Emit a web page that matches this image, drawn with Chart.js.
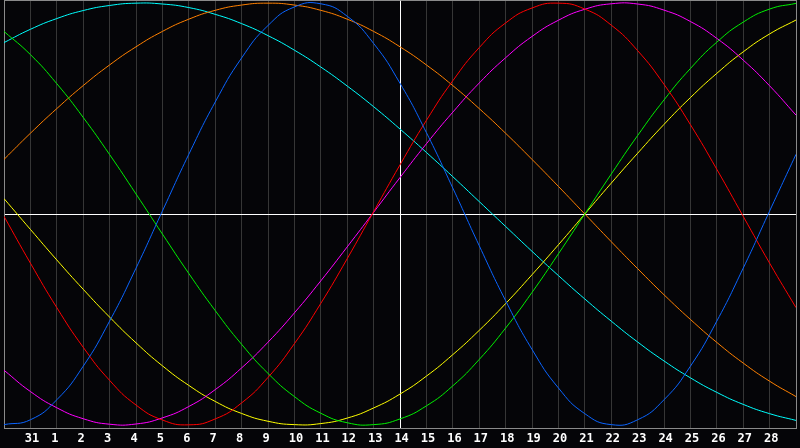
<!DOCTYPE html>
<html>
<head>
<meta charset="utf-8">
<script src="https://cdn.jsdelivr.net/npm/chart.js@4/dist/chart.umd.min.js"></script>
<style>
  html, body { margin: 0; padding: 0; background: #050508; }
  #wrap { width: 800px; height: 448px; }
</style>
</head>
<body>
<div id="wrap"><canvas id="c" width="800" height="448"></canvas></div>
<script>
// Day labels along the bottom (first and last positions are unlabeled)
const dayLabels = ["", "31", "1", "2", "3", "4", "5", "6", "7", "8", "9", "10", "11", "12", "13", "14",
  "15", "16", "17", "18", "19", "20", "21", "22", "23", "24", "25", "26", "27", "28", ""];

// Series values (percent), one per day position
const physical = [-99.9, -97.6, -88.1, -72.2, -50.8, -25.7, 1.4, 28.3, 53.1, 74.0, 89.4, 98.2, 99.7, 93.8, 80.9, 62.0, 38.6, 12.3, -15.0, -41.1, -64.2, -82.5, -94.7, -99.9, -97.6, -88.1, -72.2, -50.8, -25.7, 1.4, 28.3];
const emotional = [-1.1, -23.3, -44.4, -63.2, -78.9, -90.6, -97.7, -100.0, -97.2, -89.6, -77.5, -61.5, -42.4, -21.2, 1.1, 23.3, 44.4, 63.2, 78.9, 90.6, 97.7, 100.0, 97.2, 89.6, 77.5, 61.5, 42.4, 21.2, -1.1, -23.3, -44.4];
const intellectual = [86.6, 75.6, 61.8, 45.8, 28.2, 9.5, -9.5, -28.2, -45.8, -61.8, -75.6, -86.6, -94.5, -99.0, -99.9, -97.2, -91.0, -81.5, -69.0, -54.1, -37.2, -18.9, 0, 18.9, 37.2, 54.1, 69.0, 81.5, 91.0, 97.2, 99.9];
const intuitive = [-74.1, -84.2, -91.9, -97.1, -99.7, -99.6, -96.7, -91.3, -83.3, -73.0, -60.8, -46.9, -31.7, -15.6, 0.8, 17.3, 33.3, 48.3, 62.1, 74.1, 84.2, 91.9, 97.1, 99.7, 99.6, 96.7, 91.3, 83.3, 73.0, 60.8, 46.9];
const aesthetic = [7.3, -7.3, -21.8, -35.7, -48.9, -61.1, -72.0, -81.3, -88.9, -94.6, -98.3, -99.9, -99.4, -96.8, -92.0, -85.4, -76.9, -66.7, -55.2, -42.5, -28.8, -14.6, 0, 14.6, 28.8, 42.5, 55.2, 66.7, 76.9, 85.4, 92.0];
const awareness = [25.9, 38.3, 50.0, 60.9, 70.7, 79.3, 86.6, 92.4, 96.6, 99.1, 100, 99.1, 96.6, 92.4, 86.6, 79.3, 70.7, 60.9, 50.0, 38.3, 25.9, 13.1, 0, -13.1, -25.9, -38.3, -50.0, -60.9, -70.7, -79.3, -86.6];
const spiritual = [81.3, 87.6, 92.7, 96.5, 98.9, 100.0, 99.6, 97.9, 94.7, 90.3, 84.6, 77.7, 69.7, 60.7, 50.9, 40.3, 29.2, 17.7, 5.9, -5.9, -17.7, -29.2, -40.3, -50.8, -60.7, -69.7, -77.7, -84.6, -90.3, -94.7, -97.9];

const seriesList = [
  { name: "Physical", data: physical, color: "#0a64ff" },
  { name: "Emotional", data: emotional, color: "#ff0000" },
  { name: "Intellectual", data: intellectual, color: "#00f000" },
  { name: "Intuitive", data: intuitive, color: "#ff00ff" },
  { name: "Aesthetic", data: aesthetic, color: "#ffff00" },
  { name: "Awareness", data: awareness, color: "#ff8000" },
  { name: "Spiritual", data: spiritual, color: "#00ffff" }
];

const Y_MIN = -101.5, Y_MAX = 101.5;
const CENTER_INDEX = 15;

const datasets = seriesList.map(s => ({
  label: s.name,
  data: s.data.map((v, i) => ({ x: i, y: v })),
  borderColor: s.color,
  backgroundColor: s.color,
  borderWidth: 1,
  pointRadius: 0,
  tension: 0.5,
  fill: false
}));

const bg = {
  id: 'bg',
  beforeDraw(chart) {
    const ctx = chart.ctx;
    ctx.save();
    ctx.fillStyle = '#050508';
    ctx.fillRect(0, 0, chart.width, chart.height);
    ctx.restore();
  }
};

new Chart(document.getElementById('c'), {
  type: 'line',
  data: { datasets },
  options: {
    responsive: false,
    animation: false,
    devicePixelRatio: 1,
    layout: { padding: { left: 0, right: 1, top: 0, bottom: 0 } },
    plugins: { legend: { display: false }, tooltip: { enabled: false } },
    scales: {
      x: {
        type: 'linear',
        min: 0,
        max: dayLabels.length - 1,
        afterBuildTicks(scale) {
          scale.ticks = dayLabels.map((l, i) => ({ value: i }));
        },
        afterFit(scale) { scale.height = 20; },
        ticks: {
          autoSkip: false,
          maxRotation: 0,
          align: 'start',
          labelOffset: -5.6,
          padding: 4,
          color: '#ffffff',
          font: { family: 'DejaVu Sans Mono', size: 12, weight: 'bold' },
          callback: (v) => dayLabels[v]
        },
        grid: {
          drawTicks: false,
          lineWidth: 1,
          color: (c) => {
            const v = c.tick ? c.tick.value : -1;
            if (v === CENTER_INDEX) return '#ffffff';
            if (v === 0 || v === dayLabels.length - 1) return '#8a8a8a';
            return '#363636';
          }
        },
        border: { display: true, color: '#8a8a8a', width: 1 }
      },
      y: {
        min: Y_MIN,
        max: Y_MAX,
        afterBuildTicks(scale) {
          scale.ticks = [{ value: Y_MIN }, { value: 0 }, { value: Y_MAX }];
        },
        afterFit(scale) { scale.width = 0; },
        ticks: { display: false },
        grid: {
          drawTicks: false,
          lineWidth: 1,
          color: (c) => {
            const v = c.tick ? c.tick.value : null;
            if (v === 0) return '#ffffff';
            return '#8a8a8a';
          }
        },
        border: { display: true, color: '#8a8a8a', width: 1 }
      }
    }
  },
  plugins: [bg]
});
</script>
</body>
</html>
